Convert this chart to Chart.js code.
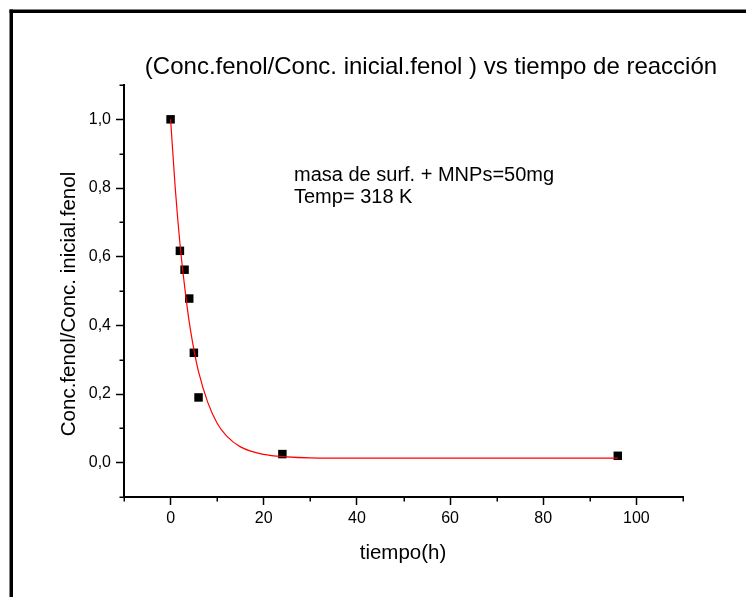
<!DOCTYPE html>
<html>
<head>
<meta charset="utf-8">
<script src="https://cdn.jsdelivr.net/npm/chart.js@4"></script>
<style>
  html, body { margin: 0; padding: 0; background: #fff; }
  #wrap { width: 746px; height: 597px; position: relative; }
</style>
</head>
<body>
<div id="wrap"><canvas id="chart" width="746" height="597"></canvas></div>
<script>
// measured points
const time = [0, 2, 3, 4, 5, 6, 24, 96];
const ratio = [1.0, 0.617, 0.562, 0.478, 0.32, 0.19, 0.025, 0.02];

// fitted curve
const fitTime = [0, 1, 2, 3, 4, 5, 6, 8, 10, 12, 15, 20, 25, 30, 40, 60, 96];
const fitRatio = [1.0, 0.80, 0.64, 0.515, 0.41, 0.33, 0.265, 0.175, 0.115, 0.078, 0.046, 0.024, 0.017, 0.014, 0.013, 0.013, 0.013];

const xMajor = [0, 20, 40, 60, 80, 100];
const yMajor = [0.0, 0.2, 0.4, 0.6, 0.8, 1.0];

const titleText = '(Conc.fenol/Conc. inicial.fenol ) vs tiempo de reacción';
const xTitle = 'tiempo(h)';
const yTitle = 'Conc.fenol/Conc. inicial.fenol';
const note = ['masa de surf. + MNPs=50mg', 'Temp= 318 K'];

const FONT = '"Liberation Sans", Arial, sans-serif';

const isMajor = (list, v) => list.some(m => Math.abs(m - v) < 1e-6);

const decor = {
    id: 'decor',
    beforeDraw(chart) {
        const ctx = chart.ctx;
        ctx.save();
        ctx.fillStyle = '#000';
        ctx.fillRect(9.5, 9.5, 746, 3.5);
        ctx.fillRect(9.5, 9.5, 3.5, 597);
        ctx.restore();
    },
    afterDraw(chart) {
        const ctx = chart.ctx;
        const xs = chart.scales.x, ys = chart.scales.y;
        const a = chart.chartArea;
        ctx.save();
        // minor ticks
        ctx.strokeStyle = '#000';
        ctx.lineWidth = 1.5;
        ctx.beginPath();
        xs.ticks.forEach(t => {
            if (isMajor(xMajor, t.value)) return;
            const px = Math.round(xs.getPixelForValue(t.value)) + 0.25;
            ctx.moveTo(px, a.bottom);
            ctx.lineTo(px, a.bottom + 4.5);
        });
        ys.ticks.forEach(t => {
            if (isMajor(yMajor, t.value)) return;
            const py = Math.round(ys.getPixelForValue(t.value)) + 0.25;
            ctx.moveTo(a.left, py);
            ctx.lineTo(a.left - 4.5, py);
        });
        ctx.stroke();

        ctx.fillStyle = '#000';
        ctx.textBaseline = 'alphabetic';
        ctx.textAlign = 'center';
        ctx.font = '24px ' + FONT;
        ctx.fillText(titleText, 431, 73.5);

        ctx.font = '20.5px ' + FONT;
        ctx.fillText(xTitle, 403, 559);

        ctx.save();
        ctx.translate(75, 304);
        ctx.rotate(-Math.PI / 2);
        ctx.fillText(yTitle, 0, 0);
        ctx.restore();

        ctx.textAlign = 'left';
        ctx.font = '20px ' + FONT;
        ctx.fillText(note[0], 294, 181);
        ctx.fillText(note[1], 294, 203);
        ctx.restore();
    }
};

new Chart(document.getElementById('chart'), {
    type: 'scatter',
    data: {
        datasets: [
            {
                label: 'fit',
                type: 'line',
                data: fitTime.map((t, i) => ({ x: t, y: fitRatio[i] })),
                borderColor: '#ff0000',
                borderWidth: 1.2,
                pointRadius: 0,
                fill: false,
                cubicInterpolationMode: 'monotone',
                order: 0
            },
            {
                label: 'data',
                data: time.map((t, i) => ({ x: t, y: ratio[i] })),
                backgroundColor: '#000',
                borderColor: '#000',
                borderWidth: 0,
                pointStyle: 'rect',
                pointRadius: 6,
                order: 1
            }
        ]
    },
    options: {
        responsive: false,
        animation: false,
        layout: { padding: { left: 0, top: 85, right: 63, bottom: 0 } },
        plugins: {
            legend: { display: false },
            tooltip: { enabled: false },
            title: { display: false }
        },
        scales: {
            x: {
                type: 'linear',
                min: -10,
                max: 110,
                afterFit: s => { s.height = 100; },
                border: { display: true, color: '#000', width: 2 },
                grid: {
                    display: true,
                    drawOnChartArea: false,
                    drawTicks: true,
                    tickLength: 8,
                    tickWidth: 1.5,
                    tickColor: c => isMajor(xMajor, c.tick.value) ? '#000' : 'rgba(0,0,0,0)'
                },
                ticks: {
                    stepSize: 10,
                    autoSkip: false,
                    maxRotation: 0,
                    padding: 4,
                    color: '#000',
                    font: { family: FONT, size: 16 },
                    callback: v => isMajor(xMajor, v) ? String(Math.round(v)) : ''
                }
            },
            y: {
                type: 'linear',
                min: -0.1,
                max: 1.1,
                afterFit: s => { s.width = 124; },
                border: { display: true, color: '#000', width: 2 },
                grid: {
                    display: true,
                    drawOnChartArea: false,
                    drawTicks: true,
                    tickLength: 8,
                    tickWidth: 1.5,
                    tickColor: c => isMajor(yMajor, c.tick.value) ? '#000' : 'rgba(0,0,0,0)'
                },
                ticks: {
                    stepSize: 0.1,
                    autoSkip: false,
                    padding: 5,
                    color: '#000',
                    font: { family: FONT, size: 16 },
                    callback: v => isMajor(yMajor, v) ? v.toFixed(1).replace('.', ',') : ''
                }
            }
        }
    },
    plugins: [decor]
});
</script>
</body>
</html>
